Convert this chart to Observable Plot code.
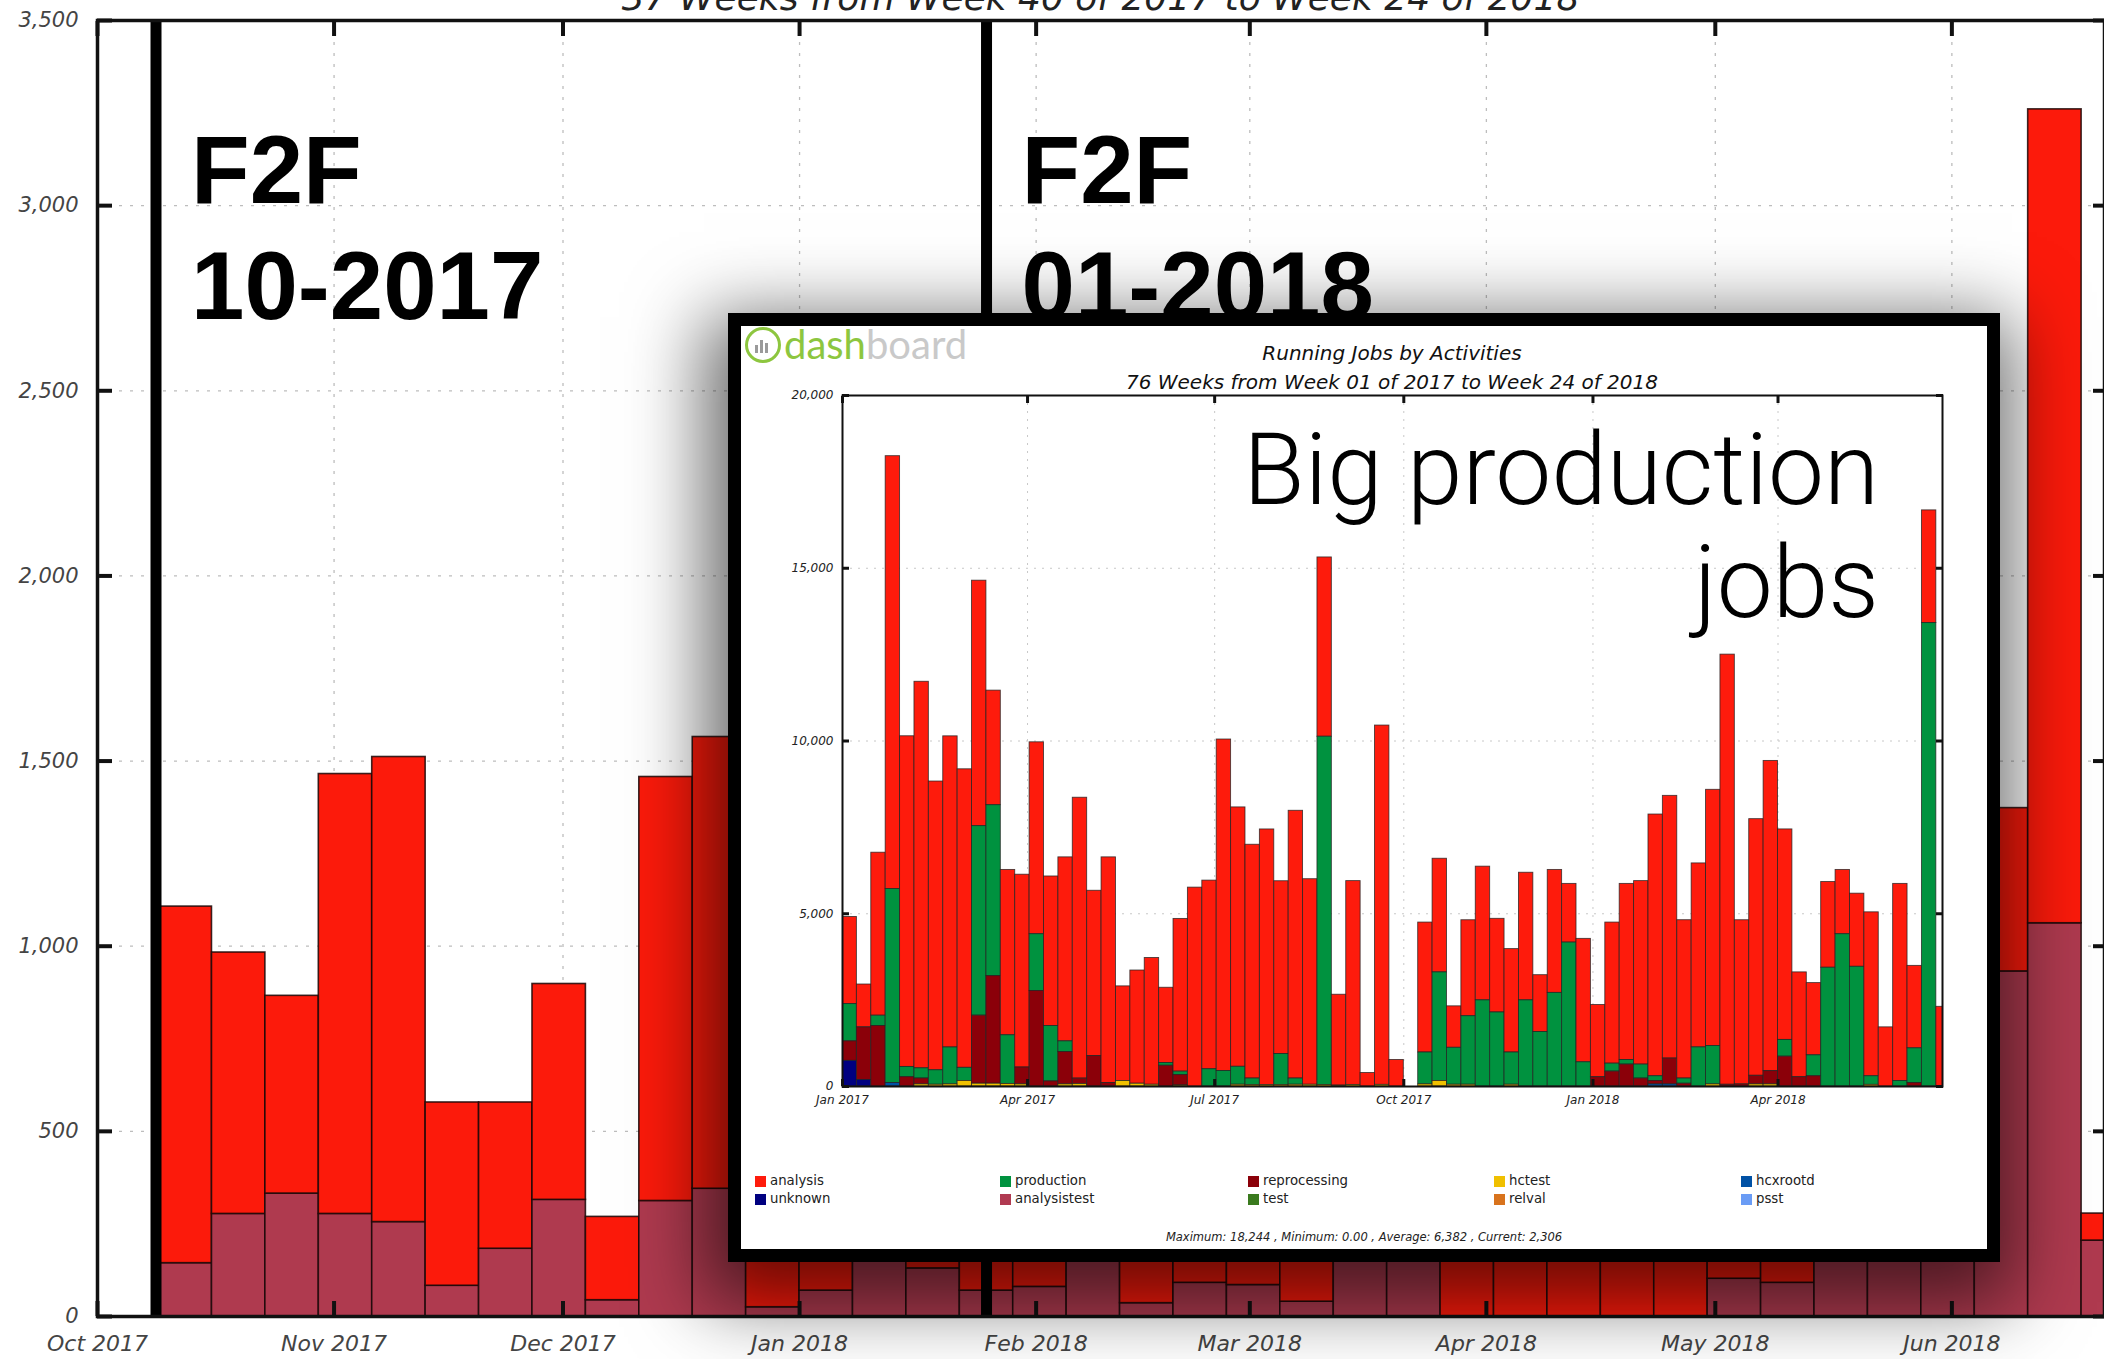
<!DOCTYPE html>
<html>
<head>
<meta charset="utf-8">
<script src="https://cdn.jsdelivr.net/npm/d3@7"></script>
<script src="https://cdn.jsdelivr.net/npm/@observablehq/plot@0.6"></script>
<style>
  html, body { margin:0; padding:0; background:#fff; }
  #wrap { position:relative; width:2104px; height:1359px; overflow:hidden; background:#fff; }
  #mainChart { position:absolute; left:0; top:0; }
  #mainTitle { position:absolute; left:97px; right:0; top:-20px; text-align:center; font: italic 36px/36px "DejaVu Sans", sans-serif; color:#222; white-space:nowrap; }
  #inset { position:absolute; left:728px; top:313px; width:1272px; height:949px; box-sizing:border-box; border:13px solid #000; background:#fff; box-shadow:-6px 22px 70px 18px rgba(0,0,0,0.58); }
  #insetChart { position:absolute; left:0; top:0; }
  #logo { position:absolute; left:4px; top:0px; height:37px; display:flex; align-items:center; font: 400 40px/37px Lato, "Open Sans", sans-serif; white-space:nowrap; }
  #logo .icon { width:30px; height:30px; border:3.5px solid #8dc63f; border-radius:50%; margin-right:3px; position:relative; }
  #logo .icon i { position:absolute; bottom:7px; width:3px; background:#9a9a9a; }
  #insetTitle { position:absolute; left:101px; width:1100px; top:17px; text-align:center; font: italic 20px/20px "DejaVu Sans", sans-serif; color:#111; white-space:nowrap; }
  #insetSub { position:absolute; left:101px; width:1100px; top:46px; text-align:center; font: italic 20px/20px "DejaVu Sans", sans-serif; color:#111; white-space:nowrap; }
  #bigNote { position:absolute; right:108px; top:88px; text-align:right; font: 300 100px/112.5px Roboto, "Liberation Sans", sans-serif; color:#000; white-space:nowrap; }
  .leg { position:absolute; height:18px; display:flex; align-items:center; font: 13.3px/18px "DejaVu Sans", sans-serif; color:#222; white-space:nowrap; }
  .leg span.sw { display:inline-block; width:11px; height:11px; margin-right:4px; }
  #stats { position:absolute; left:0; width:1246px; top:904px; text-align:center; font: italic 11.5px/14px "DejaVu Sans", sans-serif; color:#222; white-space:nowrap; }
</style>
</head>
<body>
<div id="wrap">
  <div id="mainChart"></div>
  <div id="mainTitle"></div>
  <div id="inset">
    <div id="insetChart"></div>
    <div id="logo"><span class="icon"><i style="left:7px;height:8px"></i><i style="left:12px;height:13px"></i><i style="left:17px;height:10px"></i></span><span style="color:#8dc63f">dash</span><span style="color:#c9c9c9">board</span></div>
    <div id="insetTitle"></div>
    <div id="insetSub"></div>
    <div id="bigNote">Big production<br>jobs</div>
    <div id="legendBox"></div>
    <div id="stats"></div>
  </div>
</div>
<script>
// ---------------- Main (background) chart data ----------------
const mainTitleText = "37 Weeks from Week 40 of 2017 to Week 24 of 2018";
const mainSeries = ["analysistest", "analysis"];
const mainColors = ["#af3a4f", "#fc1a0b"];
const mainWeekStart = d3.utcMonday.range(new Date("2017-10-09"), new Date("2018-06-19"));
const mainAnalysis = [963,706,534,1188,1256,495,395,583,225,1145,1220,675,830,800,970,730,920,800,664,809,1015,760,900,840,900,1100,1300,1000,800,1098,1309,900,1000,1000,441,2198,73];
const mainAnalysistest = [144,277,332,277,255,83,183,315,44,312,345,25,70,400,130,70,80,500,36,91,85,40,300,160,0,0,0,0,0,102,91,600,700,800,932,1062,205];
const mainMonthTicks = ["2017-10-01","2017-11-01","2017-12-01","2018-01-01","2018-02-01","2018-03-01","2018-04-01","2018-05-01","2018-06-01"];
const mainYTicks = [0,500,1000,1500,2000,2500,3000,3500];
const f2fDates = ["2017-10-08T16:00Z","2018-01-25T12:00Z"];
const f2fLabels = ["F2F\n10-2017","F2F\n01-2018"];

// ---------------- Inset chart data ----------------
const insetTitleText = "Running Jobs by Activities";
const insetSubText = "76 Weeks from Week 01 of 2017 to Week 24 of 2018";
const insetStatsText = "Maximum: 18,244 , Minimum: 0.00 , Average: 6,382 , Current: 2,306";
const insetWeekStart = d3.utcSunday.range(new Date("2017-01-01"), new Date("2018-06-18"));
const activities = ["analysis","unknown","production","analysistest","reprocessing","test","hctest","relval","hcxrootd","psst"];
const activityColors = ["#fe1b0c","#000080","#00923f","#b03a51","#8b0009","#3a7a1e","#f0c000","#d8731d","#0051a5","#6a9cf5"];
const stackOrder = ["hcxrootd","unknown","hctest","relval","test","psst","analysistest","reprocessing","production","analysis"];
const insAnalysis = [2521,1240,4718,12528,9571,11188,8357,9005,8641,7104,
  3316,4785,5580,5554,4327,5325,8129,4785,6532,2738,
  3277,3670,2178,4420,5756,5459,9593,7508,6767,7400,
  5001,7750,5950,5190,2630,5900,391,10400,768,0,
  3761,3289,1200,2777,3869,2710,2993,3693,1645,3559,
  1699,3572,2089,4084,5096,5311,7575,7603,4583,5325,
  7414,12450,4752,7428,8978,6093,3033,2090,2481,1860,
  2117,4744,1712,5704,2386,3262,2306];
const insProduction = [1079,0,297,5616,296,296,420,1070,380,5486,
  4947,1413,0,1645,1604,310,0,0,0,0,
  0,0,80,100,0,500,450,520,190,0,
  900,180,0,10080,0,0,0,0,0,0,
  924,3143,1070,1985,2494,2143,934,2494,1577,2709,
  4165,701,0,230,134,405,137,0,150,1132,
  1113,0,0,0,0,485,0,606,3437,4408,
  3464,250,0,160,1005,13413,0];
const insReprocessing = [566,1523,1752,0,270,170,0,0,0,1970,
  3115,0,490,2763,148,937,160,880,100,0,
  0,0,600,300,0,0,0,0,0,0,
  0,0,0,0,0,0,0,0,0,0,
  0,0,0,0,0,0,0,0,0,0,
  0,0,270,431,634,229,100,749,80,0,
  0,50,60,250,385,863,270,297,0,0,
  0,0,0,0,100,0,0];
const insUnknown = [741,189,0,0,0,0,0,0,0,0,
  0,0,0,0,0,0,0,0,0,0,
  0,0,0,0,0,0,0,0,0,0,
  0,0,0,0,0,0,0,0,0,0,
  0,0,0,0,0,0,0,0,0,0,
  0,0,0,0,0,0,0,0,0,0,
  0,0,0,0,0,0,0,0,0,0,
  0,0,0,0,0,0,0];
const insHctest = [0,0,0,0,0,60,50,60,160,80,
  80,70,60,0,0,60,69,0,0,160,
  80,50,0,30,0,0,0,50,40,40,
  40,50,50,43,26,45,0,47,0,0,
  60,160,50,50,0,0,50,0,0,0,
  0,0,0,0,0,0,0,0,0,0,
  60,0,0,60,60,0,0,0,0,0,
  0,47,0,0,0,0,0];
const insHcxrootd = [0,0,0,100,0,0,0,0,0,0,
  0,0,0,0,0,0,0,0,0,0,
  0,0,0,0,0,0,0,0,0,0,
  0,0,0,0,0,0,0,0,0,0,
  0,0,0,0,0,0,0,0,0,0,
  0,0,0,0,0,0,60,60,0,0,
  0,0,0,0,0,0,0,0,0,0,
  0,0,0,0,0,0,0];
const insetXTicks = ["2017-01-01","2017-04-01","2017-07-01","2017-10-01","2018-01-01","2018-04-01"];
const insetYTicks = [0,5000,10000,15000,20000];

// ---------------- Build tables ----------------
const FF = "DejaVu Sans, sans-serif";
const mainRows = [];
mainWeekStart.forEach((d, i) => {
  const end = d3.utcDay.offset(d, 7);
  mainRows.push({start: d, end, series: "analysistest", value: mainAnalysistest[i]});
  mainRows.push({start: d, end, series: "analysis", value: mainAnalysis[i]});
});
const f2fRows = f2fDates.map((d, i) => ({date: new Date(d), label: f2fLabels[i]}));
const mTicks = mainMonthTicks.map(d => new Date(d));

const insetSeriesValues = {analysis: insAnalysis, production: insProduction, reprocessing: insReprocessing, unknown: insUnknown, hctest: insHctest, hcxrootd: insHcxrootd};
const insetRows = [];
insetWeekStart.forEach((d, i) => {
  const end = d3.utcDay.offset(d, 7);
  for (const [s, arr] of Object.entries(insetSeriesValues)) {
    if (arr[i] > 0) insetRows.push({start: d, end, series: s, value: arr[i]});
  }
});
const iTicks = insetXTicks.map(d => new Date(d));

// ---------------- Main chart ----------------
const blank = () => "";
const main = Plot.plot({
  width: 2104, height: 1359,
  marginLeft: 97, marginRight: 0, marginTop: 20, marginBottom: 43,
  x: {type: "utc", domain: [new Date("2017-10-01"), new Date("2018-06-21")], label: null},
  y: {domain: [0, 3500], label: null},
  color: {domain: mainSeries, range: mainColors},
  style: {background: "transparent"},
  marks: [
    Plot.gridX(mTicks, {stroke: "#bdbdbd", strokeOpacity: 1, strokeWidth: 1.3, strokeDasharray: "3,8"}),
    Plot.gridY(mainYTicks, {stroke: "#bdbdbd", strokeOpacity: 1, strokeWidth: 1.3, strokeDasharray: "3,8"}),
    Plot.rectY(mainRows.filter(r => r.value > 0), Plot.stackY({order: mainSeries}, {x1: "start", x2: "end", y: "value", fill: "series", stroke: "#1a0808", strokeWidth: 1.6, strokeOpacity: 0.85})),
    Plot.ruleX(f2fRows, {x: "date", stroke: "#000", strokeWidth: 11}),
    Plot.text(f2fRows, {x: "date", text: "label", frameAnchor: "top", textAnchor: "start", lineAnchor: "bottom", lineHeight: 1.2, dx: 35, dy: 298, fontSize: 96, fontWeight: "bold", fontFamily: "Liberation Sans, Arial, sans-serif", fill: "#000"}),
    Plot.frame({stroke: "#111", strokeWidth: 3.5}),
    Plot.axisY(mainYTicks, {anchor: "left", tickSize: -15, strokeWidth: 4, stroke: "#111", tickFormat: blank}),
    Plot.axisY(mainYTicks, {anchor: "right", tickSize: -12, strokeWidth: 4, stroke: "#111", tickFormat: blank}),
    Plot.axisX(mTicks, {anchor: "top", tickSize: -15, strokeWidth: 4, stroke: "#111", tickFormat: blank}),
    Plot.axisX(mTicks, {anchor: "bottom", tickSize: -15, strokeWidth: 4, stroke: "#111", tickFormat: blank}),
    Plot.axisY(mainYTicks, {anchor: "left", tickSize: 0, tickPadding: 19, tickFormat: d3.format(","), fontSize: 21, fontStyle: "italic", fontFamily: FF, fill: "#444"}),
    Plot.axisX(mTicks, {anchor: "bottom", tickSize: 0, tickPadding: 19, tickFormat: d3.utcFormat("%b %Y"), fontSize: 22, fontStyle: "italic", fontFamily: FF, fill: "#444"})
  ]
});
document.getElementById("mainChart").appendChild(main);
document.getElementById("mainTitle").textContent = mainTitleText;

// ---------------- Inset chart ----------------
const inset = Plot.plot({
  width: 1246, height: 800,
  marginLeft: 101, marginRight: 45, marginTop: 69, marginBottom: 40,
  x: {type: "utc", domain: [new Date("2017-01-01"), new Date("2018-06-20")], label: null},
  y: {domain: [0, 20000], label: null},
  color: {domain: activities, range: activityColors},
  style: {background: "transparent"},
  marks: [
    Plot.gridX(iTicks, {stroke: "#c8c8c8", strokeOpacity: 1, strokeWidth: 1, strokeDasharray: "2,6"}),
    Plot.gridY(insetYTicks, {stroke: "#c8c8c8", strokeOpacity: 1, strokeWidth: 1, strokeDasharray: "2,6"}),
    Plot.rectY(insetRows, Plot.stackY({order: stackOrder}, {x1: "start", x2: "end", y: "value", fill: "series", stroke: "#222", strokeWidth: 0.9, strokeOpacity: 0.8, clip: true})),
    Plot.frame({stroke: "#111", strokeWidth: 2}),
    Plot.axisY(insetYTicks, {anchor: "left", tickSize: -7, strokeWidth: 3, stroke: "#111", tickFormat: blank}),
    Plot.axisY(insetYTicks, {anchor: "right", tickSize: -7, strokeWidth: 3, stroke: "#111", tickFormat: blank}),
    Plot.axisX(iTicks, {anchor: "top", tickSize: -7, strokeWidth: 3, stroke: "#111", tickFormat: blank}),
    Plot.axisX(iTicks, {anchor: "bottom", tickSize: -7, strokeWidth: 3, stroke: "#111", tickFormat: blank}),
    Plot.axisY(insetYTicks, {anchor: "left", tickSize: 0, tickPadding: 9, tickFormat: d3.format(","), fontSize: 12, fontStyle: "italic", fontFamily: FF, fill: "#222"}),
    Plot.axisX(iTicks, {anchor: "bottom", tickSize: 0, tickPadding: 9, tickFormat: d3.utcFormat("%b %Y"), fontSize: 12, fontStyle: "italic", fontFamily: FF, fill: "#222"})
  ]
});
document.getElementById("insetChart").appendChild(inset);
document.getElementById("insetTitle").textContent = insetTitleText;
document.getElementById("insetSub").textContent = insetSubText;
document.getElementById("stats").textContent = insetStatsText;

// legend: 5 columns x 2 rows, column-major like the original
const legBox = document.getElementById("legendBox");
const legColX = [14, 259, 507, 753, 1000];
const legRowY = [846, 864];
activities.forEach((a, i) => {
  const col = Math.floor(i / 2), row = i % 2;
  const el = document.createElement("div");
  el.className = "leg";
  el.style.left = legColX[col] + "px";
  el.style.top = legRowY[row] + "px";
  el.innerHTML = `<span class="sw" style="background:${activityColors[i]}"></span>`;
  el.appendChild(document.createTextNode(a));
  legBox.appendChild(el);
});
</script>
</body>
</html>
